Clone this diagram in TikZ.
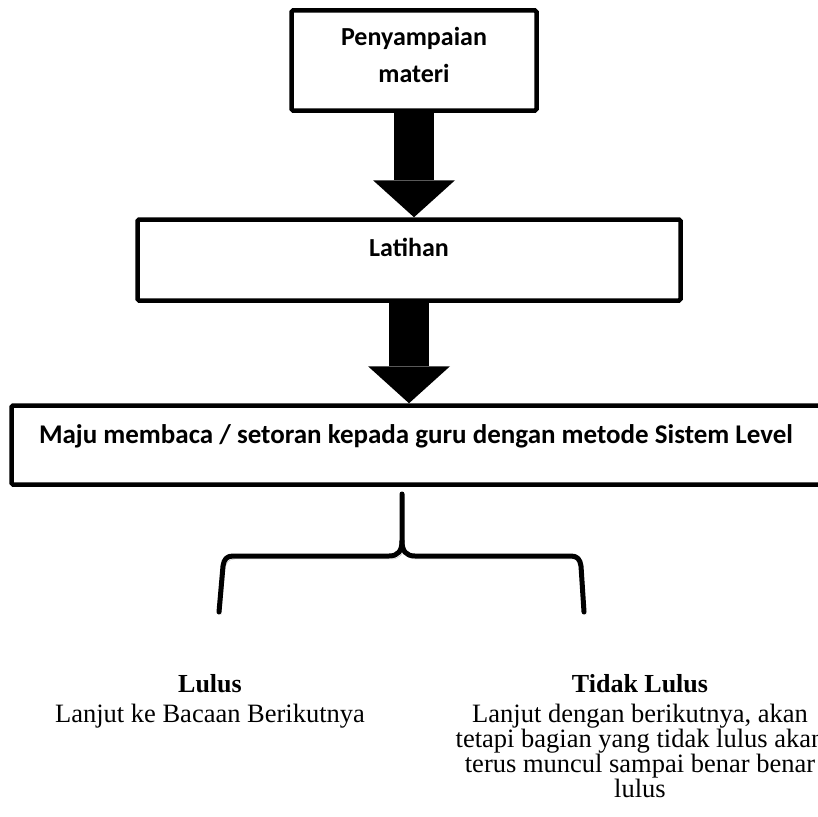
\documentclass[tikz,border=0pt]{standalone}
\usepackage{fontspec}
\setmainfont{Liberation Serif}
\newfontfamily\kotakfont{Carlito}
\usetikzlibrary{positioning, arrows.meta, calc}

\begin{document}
\begin{tikzpicture}[
    x=1pt, y=-1pt,
    kotak/.style={draw=black, line width=4.5pt, rounded corners=1.5pt, inner sep=0pt, align=center,
        font=\kotakfont\bfseries\fontsize{26}{37}\selectfont},
    panah/.style={line width=40pt, -{Triangle[width=82pt, length=37pt, line width=0pt]}},
    kurung/.style={line width=5pt, line cap=round, line join=round,
        preaction={draw=black!25, transform canvas={shift={(2pt,-3pt)}}}},
    judul/.style={font=\bfseries\fontsize{26}{26}\selectfont, inner sep=0pt},
    isi/.style={font=\fontsize{26.5}{25}\selectfont, align=center, inner sep=0pt}
]
\useasboundingbox (0,0) rectangle (818,816);
\node[kotak, minimum width=245pt, minimum height=100pt, text depth=12pt](materi) at (414,60.5){Penyampaian\\materi};
\node[kotak, minimum width=543pt, minimum height=81pt, text height=18pt, text depth=25pt](latihan) at (409,260){Latihan};
\node[kotak, minimum width=809pt, minimum height=79pt, text height=18pt, text depth=21pt,
    font=\kotakfont\bfseries\fontsize{27}{37}\selectfont](maju) at (416,445){Maju membaca / setoran kepada guru dengan metode Sistem Level};
% panah tebal
\draw[panah] (materi.south) -- (materi.south |- latihan.north);
\draw[panah] (latihan.south) -- (latihan.south |- maju.north);
% kurung kurawal
\draw[kurung] (219,612) -- (223,566) .. controls (224,559) and (227,556) .. (233,556) -- (389,556)
    .. controls (398,556) and (402,551) .. (402,541) -- (402,494);
\draw[kurung] (402,541) .. controls (402,551) and (406,556) .. (415,556) -- (571,556)
    .. controls (577,556) and (580,559) .. (581,566) -- (584,612);
% keterangan
\node[judul, anchor=base](lulus) at (210,692){Lulus};
\node[judul, anchor=base](tidak) at (640,692){Tidak Lulus};
\node[isi, anchor=base](lanjut) at (210,722){Lanjut ke Bacaan Berikutnya};
\node[isi, anchor=north](terus) at (640,704){Lanjut dengan berikutnya, akan\\tetapi bagian yang tidak lulus akan\\terus muncul sampai benar benar\\lulus};
\end{tikzpicture}
\end{document}
